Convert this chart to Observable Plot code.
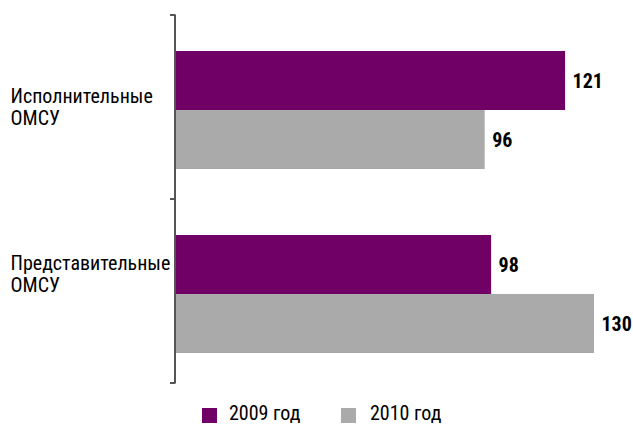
<!DOCTYPE html>
<html>
<head>
<meta charset="utf-8">
<script src="https://cdn.jsdelivr.net/npm/d3@7"></script>
<script src="https://cdn.jsdelivr.net/npm/@observablehq/plot@0.6"></script>
<style>
  body { margin: 0; background: #fff; font-family: Roboto, sans-serif; font-stretch: condensed; }
  svg, svg text { font-stretch: condensed; }
  #chart { position: relative; width: 633px; }
  .legend { position: relative; height: 37px; font-size: 20px; color: #000; font-stretch: condensed; }
  .legend .sw { position: absolute; width: 15px; height: 15px; top: 20px; }
  .legend .lb { position: absolute; top: 15px; line-height: 20px; }
</style>
</head>
<body>
<div id="chart"></div>
<script>
const categories = ["Исполнительные\nОМСУ", "Представительные\nОМСУ"];
const years = ["2009 год", "2010 год"];
const values2009 = [121, 98];
const values2010 = [96, 130];
const colors = ["#700066", "#aaaaaa"];

const data = categories.flatMap((c, i) => [
  {cat: c, year: years[0], value: values2009[i]},
  {cat: c, year: years[1], value: values2010[i]}
]);

const font = 'Roboto, sans-serif';

const plot = Plot.plot({
  width: 633,
  height: 388,
  marginLeft: 176,
  marginRight: 39,
  marginTop: 14,
  marginBottom: 5,
  style: {fontFamily: font, fontSize: "20px", color: "#000", background: "#fff", fontStretch: "condensed", overflow: "visible"},
  x: {domain: [0, 130], axis: null},
  fy: {domain: categories, padding: 0, axis: null},
  y: {domain: years, paddingInner: 0, paddingOuter: 0.54, align: 0.55, axis: null},
  color: {domain: years, range: colors},
  marks: [
    Plot.barX(data, {x: "value", y: "year", fy: "cat", fill: "year"}),
    Plot.text(data, {x: "value", y: "year", fy: "cat", text: d => String(d.value), dx: 7, dy: 1, textAnchor: "start", fontWeight: "bold", fontSize: 20, fill: "#000"}),
    Plot.ruleX([0], {stroke: "#555", strokeWidth: 2, dx: -1.5}),
    Plot.text([categories[0]], {fy: d => d, text: d => d, frameAnchor: "left", dx: -166, dy: -1, textAnchor: "start", lineHeight: 1.1, fontSize: 20, fill: "#000"}),
    Plot.text([categories[1]], {fy: d => d, text: d => d, frameAnchor: "left", dx: -166, dy: -18, textAnchor: "start", lineHeight: 1.1, fontSize: 20, fill: "#000"})
  ]
});

// boundary ticks on the category axis, from the fy scale
const fy = plot.scale("fy");
const svg = d3.select(plot.tagName === "svg" ? plot : plot.querySelector("svg"));
const bounds = [];
fy.domain.forEach((c, i) => {
  const top = fy.apply(c);
  bounds.push(top);
  if (i === fy.domain.length - 1) bounds.push(top + fy.bandwidth);
});
svg.append("g").selectAll("line").data(bounds).join("line")
  .attr("x1", 170).attr("x2", 175.5)
  .attr("y1", d => d).attr("y2", d => d)
  .attr("stroke", "#555").attr("stroke-width", 2);

document.getElementById("chart").appendChild(plot);

const legend = document.createElement("div");
legend.className = "legend";
const swX = [202, 341], lbX = [229, 370];
years.forEach((y, i) => {
  const sw = document.createElement("div");
  sw.className = "sw"; sw.style.left = swX[i] + "px"; sw.style.background = colors[i];
  const lb = document.createElement("div");
  lb.className = "lb"; lb.style.left = lbX[i] + "px"; lb.textContent = y;
  legend.appendChild(sw); legend.appendChild(lb);
});
document.getElementById("chart").appendChild(legend);
</script>
</body>
</html>
